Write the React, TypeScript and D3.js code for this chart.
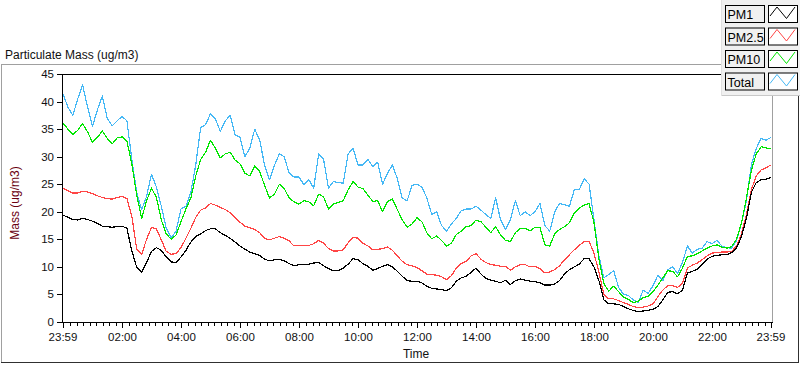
import React from "react";
import * as d3 from "d3";

// one reading every 10 minutes, starting 23:59 of the previous day
const sampleMinutes = d3.range(0, 1441, 10);

const pm1 = [
  19.4, 19.0, 18.6, 18.5, 18.8, 18.6, 18.3, 17.9, 17.4, 17.3, 17.2, 17.3, 17.4, 17.0, 12.9, 9.9, 9.0, 10.8, 12.8, 13.5,
  13.0, 11.8, 10.9, 10.8, 11.8, 13.0, 14.5, 15.5, 16.0, 16.6,
  16.9, 16.9, 16.2, 15.7, 15.2, 14.5, 13.8, 13.2, 12.7, 12.4, 12.1, 11.4, 11.1, 11.3, 11.4, 11.1, 10.6, 10.2, 10.4, 10.4,
  10.5, 10.7, 10.8, 10.2, 9.7, 9.3, 9.3, 9.8,
  10.5, 11.5, 11.3, 10.6, 10.1, 9.4, 9.7, 10.1, 10.4, 10.0, 9.2, 8.3, 7.5, 7.4, 7.4, 7.1, 6.5, 6.1, 6.0, 5.9,
  5.7, 6.2, 7.4, 8.0, 8.3, 9.0, 9.8,
  8.7, 7.9, 7.6, 7.4, 7.1, 7.6, 6.8, 7.5, 7.8, 7.6, 7.4, 7.3, 7.1, 6.7, 6.7, 6.9, 7.5, 8.7, 9.5, 10.0,
  10.5, 11.5, 11.5, 10.0, 7.5, 4.0, 3.3, 3.3, 3.2,
  2.8, 2.4, 2.1, 1.9, 2.0, 2.1, 2.3, 2.8, 4.0, 5.4, 5.5, 5.1, 5.8, 8.9, 9.2, 9.6, 10.4, 11.4, 11.9, 12.1,
  12.2, 12.2, 12.6, 13.5, 15.5, 18.8, 23.5, 25.3, 25.8, 25.9, 26.2,
];

const pm25 = [
  24.3, 23.8, 23.4, 23.4, 23.7, 23.6, 23.3, 22.9, 22.6, 22.4, 22.3, 22.6, 22.8, 22.4, 19.2, 13.2, 12.3, 15.0, 17.2, 16.9,
  14.9, 12.8, 12.3, 12.4, 13.5, 15.2, 17.0, 19.0, 20.3, 20.7,
  21.5, 21.2, 20.8, 20.4, 19.8, 19.0, 18.1, 17.4, 17.1, 16.8, 16.2, 15.2, 14.9, 15.2, 15.5, 15.2, 14.7, 13.8, 13.9, 13.9,
  13.9, 14.2, 14.8, 14.3, 13.3, 12.9, 12.9, 13.1,
  14.4, 15.4, 15.2, 14.3, 13.8, 13.1, 13.2, 13.3, 13.6, 13.0, 12.0, 11.0, 10.4, 10.2, 9.9, 9.3, 8.7, 8.6, 8.5, 8.2,
  7.7, 8.4, 9.8, 10.6, 11.0, 12.0, 12.4,
  11.4, 10.8, 10.4, 10.3, 10.1, 10.1, 9.4, 10.0, 10.4, 10.4, 10.0, 10.1, 9.7, 8.9, 9.1, 9.5, 10.2, 11.3, 12.2, 13.1,
  13.9, 14.6, 14.6, 12.5, 9.0, 5.0, 4.2, 4.2, 3.9,
  3.5, 3.2, 2.8, 2.6, 2.7, 2.9, 3.3, 4.6, 5.8, 6.6, 6.6, 6.3, 7.0, 9.8, 10.3, 10.7, 11.3, 12.0, 12.5, 12.6,
  12.7, 12.7, 12.8, 13.8, 16.0, 19.5, 24.0, 26.5, 27.6, 28.0, 28.5,
];

const pm10 = [
  36.1, 35.0, 34.0, 34.8, 36.0, 34.5, 32.6, 33.5, 34.7, 33.3, 32.3, 33.4, 33.6, 32.8, 28.7, 23.0, 18.8, 22.0, 24.3, 22.6,
  18.5, 16.0, 15.0, 15.8, 18.2, 20.5, 22.5, 26.5, 29.5, 30.8,
  33.0, 31.5, 29.8, 30.5, 30.8, 29.4, 28.7, 27.0, 26.5, 28.3, 27.3, 24.8, 22.5, 23.2, 25.0, 24.2, 22.5, 21.8, 21.4, 22.0,
  21.8, 21.1, 23.2, 22.7, 20.5, 21.4, 21.7, 22.0,
  24.0, 25.5, 24.5, 24.2, 23.0, 21.9, 22.0, 20.0, 21.9, 22.3, 20.4, 18.5, 17.2, 17.8, 18.9, 18.2, 16.2, 15.1, 15.6, 14.8,
  13.8, 14.3, 15.9, 16.5, 17.3, 17.5, 18.5,
  18.2, 17.2, 16.2, 17.3, 15.8, 14.8, 14.6, 16.2, 17.0, 17.0, 16.5, 17.2, 17.2, 14.0, 13.8, 16.0, 16.8, 17.3, 18.0, 19.8,
  20.7, 21.2, 21.5, 18.0, 11.5, 7.0, 5.6, 6.5, 5.5,
  4.5, 4.1, 3.5, 3.8, 4.4, 4.7, 5.5, 6.7, 8.0, 9.3, 9.2, 8.2, 9.8, 11.9, 12.0, 12.4, 12.9, 13.4, 13.8, 14.0,
  13.6, 13.4, 13.7, 15.0, 18.0, 22.5, 27.5, 30.5, 31.8, 31.6, 31.4,
];

const total = [
  41.4, 39.0, 37.5, 40.5, 43.0, 39.0, 35.5, 38.5, 41.0, 37.0, 35.6, 36.5, 37.3, 36.5, 29.5, 23.4, 20.4, 22.8, 26.8, 24.5,
  21.0, 17.0, 15.3, 16.5, 20.5, 21.0, 23.5, 28.5, 35.3, 35.8,
  37.8, 36.8, 34.6, 36.5, 37.5, 34.0, 33.5, 30.0, 31.5, 35.0, 33.0, 28.5, 25.8, 28.4, 30.5, 30.0, 27.0, 26.3, 26.3, 24.9,
  25.8, 24.3, 30.5, 29.5, 24.3, 25.5, 25.3, 25.2,
  30.5, 31.5, 28.5, 28.5, 29.5, 28.2, 29.0, 25.0, 27.0, 28.5, 26.0, 22.5, 22.0, 24.8, 25.0, 24.5, 22.5, 19.5, 20.0, 17.5,
  16.5, 17.8, 18.8, 20.2, 20.5, 20.5, 21.0,
  20.3, 19.5, 18.8, 22.5, 18.5, 16.8, 18.6, 22.0, 19.3, 20.0, 19.3, 20.0, 21.5, 17.5, 16.5, 20.0, 21.5, 21.3, 21.0, 24.0,
  24.0, 26.0, 25.0, 18.5, 12.0, 8.0, 8.6, 9.3, 6.3,
  5.0, 4.8, 4.0, 3.5, 5.8, 5.2, 6.6, 8.5, 7.5, 9.5, 10.0, 8.8, 10.8, 13.8, 12.5, 13.2, 13.4, 14.6, 14.2, 14.8,
  13.8, 13.5, 13.4, 14.8, 18.0, 22.0, 28.5, 31.5, 33.3, 33.0, 33.5,
];

const seriesNames = ["PM1", "PM2.5", "PM10", "Total"];
const seriesValues = [pm1, pm25, pm10, total];
const seriesColors = ["#000000", "#ff4545", "#00e600", "#45b8f5"];

const timeTickMinutes = [0, 121, 241, 361, 481, 601, 721, 841, 961, 1081, 1201, 1321, 1440];
const timeTickLabels = ["23:59", "02:00", "04:00", "06:00", "08:00", "10:00", "12:00", "14:00", "16:00", "18:00", "20:00", "22:00", "23:59"];
const massTicks = [0, 5, 10, 15, 20, 25, 30, 35, 40, 45];

const W = 800;
const H = 365;
const plot = { left: 63, right: 771, top: 74, bottom: 322 };
const font = "'Liberation Sans', Arial, sans-serif";

export default function App() {
  const x = d3.scaleLinear().domain([0, 1440]).range([plot.left, plot.right]);
  const y = d3.scaleLinear().domain([0, 45]).range([plot.bottom, plot.top]);

  const line = d3
    .line<number>()
    .x((_, i) => x(sampleMinutes[i]))
    .y((v) => y(v));

  // minor ticks: 8 between every pair of labelled ticks, stepping from 02:00
  const minorStep = 120 / 9;
  const minor: number[] = [];
  for (let m = 121 - minorStep * 9; m <= 1440; m += minorStep) {
    const near = timeTickMinutes.some((t) => Math.abs(t - m) < 3);
    if (!near && m > 0) minor.push(m);
  }

  const drawOrder = [3, 2, 1, 0];

  return (
    <svg
      width={W}
      height={H}
      style={{ position: "absolute", left: 0, top: 0, background: "#fff" }}
      fontFamily={font}
    >
      <rect width={W} height={H} fill="#fff" />
      <text x={5} y={59} fontSize={12} fill="#111">
        Particulate Mass (ug/m3)
      </text>

      {/* outer frame */}
      <line x1={1} x2={721} y1={64.5} y2={64.5} stroke="#a0a0a0" />
      <line x1={1.5} x2={1.5} y1={64} y2={363} stroke="#a0a0a0" />
      <line x1={1} x2={799} y1={362.5} y2={362.5} stroke="#303030" />
      <line x1={798.5} x2={798.5} y1={96} y2={363} stroke="#303030" />

      {/* plot frame */}
      <line x1={plot.left} x2={721} y1={plot.top + 0.5} y2={plot.top + 0.5} stroke="#000" />
      <line x1={772.5} x2={772.5} y1={96} y2={plot.bottom} stroke="#a0a0a0" />

      {/* series */}
      <g shapeRendering="crispEdges">
        {drawOrder.map((k) => (
          <path
            key={seriesNames[k]}
            d={line(seriesValues[k]) || ""}
            fill="none"
            stroke={seriesColors[k]}
            strokeWidth={1.2}
            strokeLinejoin="round"
          />
        ))}
      </g>

      {/* axes */}
      <line x1={plot.left - 0.5} x2={plot.left - 0.5} y1={plot.top} y2={plot.bottom + 1} stroke="#000" />
      <line x1={plot.left} x2={773} y1={plot.bottom + 0.5} y2={plot.bottom + 0.5} stroke="#000" />

      {massTicks.map((t) => (
        <g key={t}>
          <line x1={57} x2={63} y1={Math.round(y(t)) + 0.5} y2={Math.round(y(t)) + 0.5} stroke="#000" />
          <text x={54} y={y(t) + 4} fontSize={11.5} textAnchor="end" fill="#111">
            {t}
          </text>
        </g>
      ))}

      {minor.map((m, i) => (
        <line
          key={i}
          x1={Math.round(x(m)) + 0.5}
          x2={Math.round(x(m)) + 0.5}
          y1={plot.bottom}
          y2={plot.bottom + 4}
          stroke="#000"
        />
      ))}
      {timeTickMinutes.map((m, i) => (
        <g key={i}>
          <line
            x1={Math.round(x(m)) + 0.5}
            x2={Math.round(x(m)) + 0.5}
            y1={plot.bottom}
            y2={plot.bottom + 6}
            stroke="#000"
          />
          <text x={x(m)} y={341} fontSize={11.5} textAnchor="middle" fill="#111">
            {timeTickLabels[i]}
          </text>
        </g>
      ))}

      <text x={416} y={358} fontSize={12} textAnchor="middle" fill="#111">
        Time
      </text>
      <text transform="translate(19,203) rotate(-90)" fontSize={12} textAnchor="middle" fill="#6a0010">
        Mass (ug/m3)
      </text>

      {/* legend */}
      <g>
        <rect x={721} y={0} width={79} height={96} fill="#f0f0f0" />
        <line x1={721} x2={800} y1={95.5} y2={95.5} stroke="#c8c8c8" />
        <line x1={721.5} x2={721.5} y1={0} y2={96} stroke="#e0e0e0" />
        {seriesNames.map((name, i) => {
          const top = 5 + i * 22.5;
          return (
            <g key={name}>
              <rect x={725.5} y={top + 0.5} width={39} height={17} fill="#f0f0f0" stroke="#000" />
              <text x={727.5} y={top + 14} fontSize={12.5} fill="#000">
                {name}
              </text>
              <rect x={768.5} y={top + 0.5} width={29} height={17} fill="#fff" stroke="#000" />
              <polyline
                points={`${770},${top + 11} ${777},${top + 2} ${786.5},${top + 13.5} ${795},${top + 2}`}
                fill="none"
                stroke={seriesColors[i]}
                strokeWidth={1}
              />
            </g>
          );
        })}
      </g>
    </svg>
  );
}
